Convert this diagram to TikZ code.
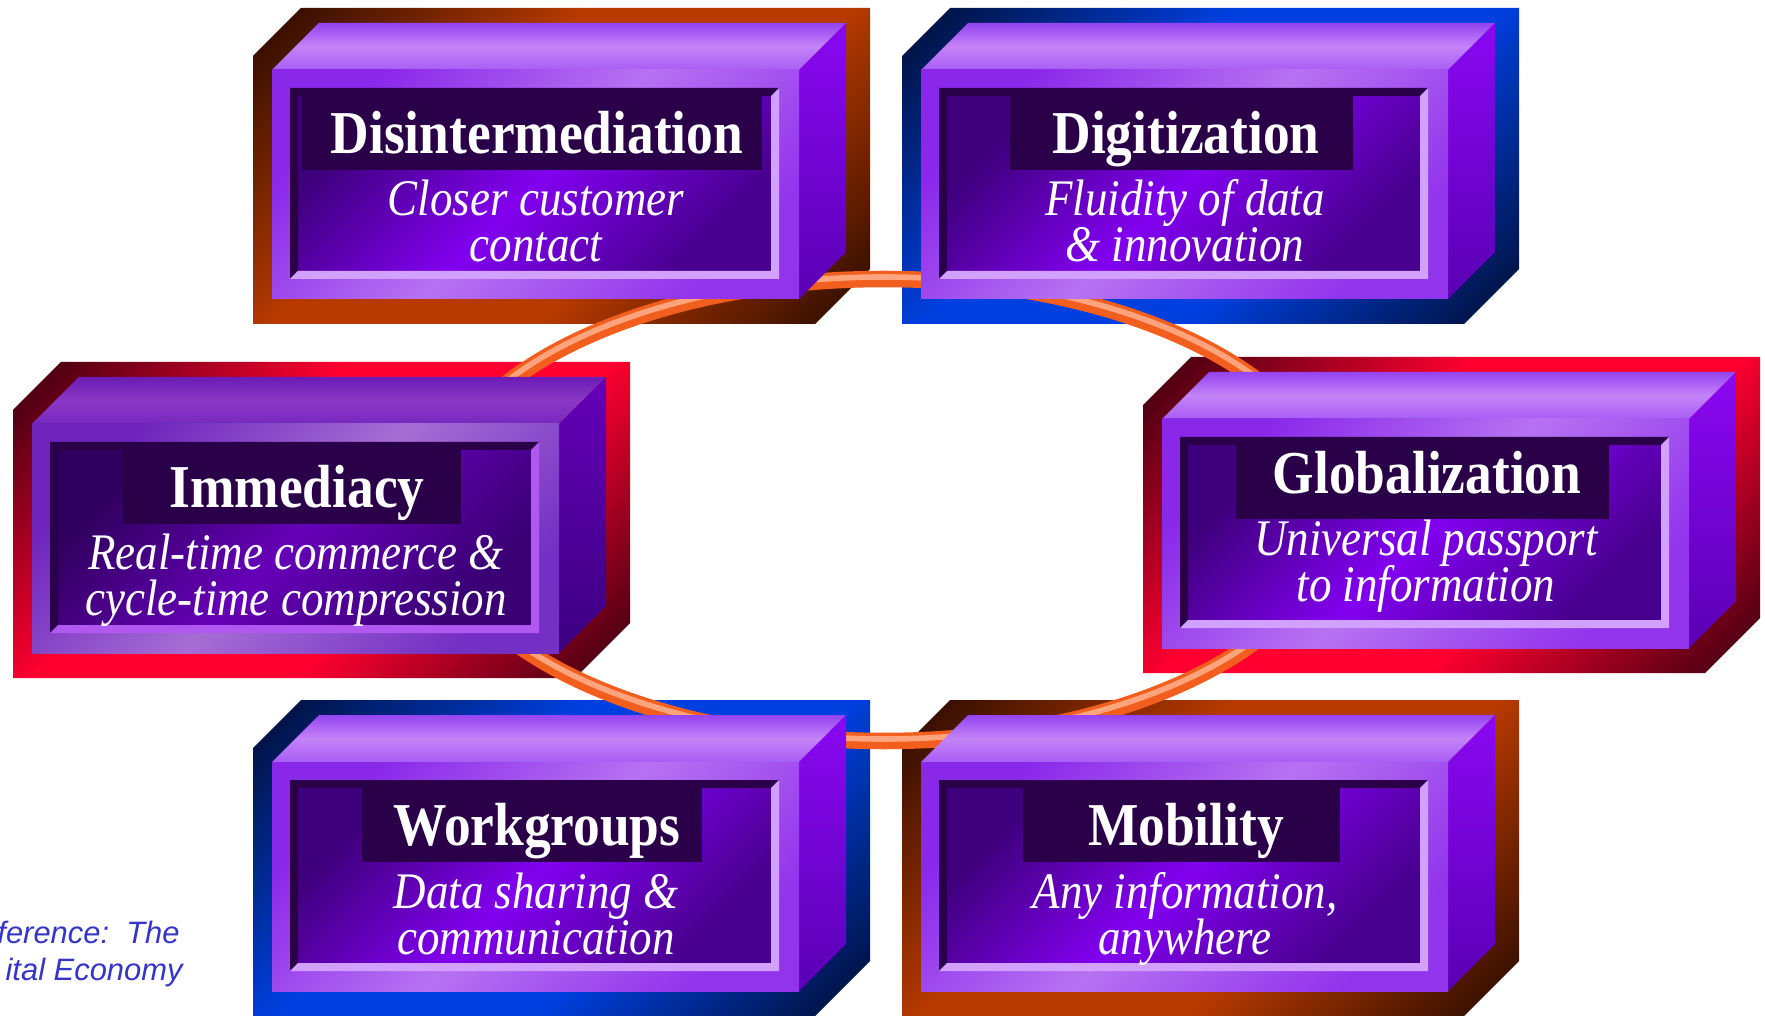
\documentclass[tikz,border=0pt]{standalone}
\usepackage{fontspec}
\setmainfont{Liberation Serif}
\setsansfont{Liberation Sans}
\usepackage{xcolor}
\usepackage{graphicx}
\usepackage{tikz}
\usetikzlibrary{positioning}
\definecolor{c_bar}{HTML}{2A0048}
\definecolor{c_ring}{HTML}{F25E1E}
\definecolor{c_ringlit}{HTML}{FFA47C}
\definecolor{c_ref}{HTML}{3535C8}
\definecolor{c_brown_d}{HTML}{2E0C00}
\definecolor{c_brown_l}{HTML}{B83A00}
\definecolor{c_blue_d}{HTML}{00103A}
\definecolor{c_blue_l}{HTML}{0040E0}
\definecolor{c_red_d}{HTML}{400010}
\definecolor{c_red_l}{HTML}{FF0030}
\definecolor{c_topA1}{HTML}{9444F0}
\definecolor{c_topA2}{HTML}{C483F8}
\definecolor{c_topA3}{HTML}{A85EF4}
\definecolor{c_sideA1}{HTML}{8A08F2}
\definecolor{c_sideA2}{HTML}{5A00B4}
\definecolor{c_frontA1}{HTML}{8A28EA}
\definecolor{c_frontA2}{HTML}{B672F2}
\definecolor{c_frontA3}{HTML}{9234EC}
\definecolor{c_panelA1}{HTML}{3E007C}
\definecolor{c_panelA2}{HTML}{8200F0}
\definecolor{c_panelA3}{HTML}{48008E}
\definecolor{c_litA}{HTML}{D2A0FF}
\definecolor{c_topB1}{HTML}{6A1CB4}
\definecolor{c_topB2}{HTML}{8A38C6}
\definecolor{c_topB3}{HTML}{7828BE}
\definecolor{c_sideB1}{HTML}{6400B8}
\definecolor{c_sideB2}{HTML}{3C0080}
\definecolor{c_frontB1}{HTML}{6E24BC}
\definecolor{c_frontB2}{HTML}{A46ED4}
\definecolor{c_frontB3}{HTML}{7430C4}
\definecolor{c_panelB1}{HTML}{30005E}
\definecolor{c_panelB2}{HTML}{6600B8}
\definecolor{c_panelB3}{HTML}{3A0074}
\definecolor{c_litB}{HTML}{B058F0}
\pgfdeclareverticalshading{frame_brown}{100bp}{color(0bp)=(c_brown_d); color(16bp)=(c_brown_d); color(40bp)=(c_brown_l); color(60bp)=(c_brown_l); color(84bp)=(c_brown_d); color(100bp)=(c_brown_d)}
\pgfdeclareverticalshading{frame_blue}{100bp}{color(0bp)=(c_blue_d); color(16bp)=(c_blue_d); color(40bp)=(c_blue_l); color(60bp)=(c_blue_l); color(84bp)=(c_blue_d); color(100bp)=(c_blue_d)}
\pgfdeclareverticalshading{frame_red}{100bp}{color(0bp)=(c_red_d); color(16bp)=(c_red_d); color(40bp)=(c_red_l); color(60bp)=(c_red_l); color(84bp)=(c_red_d); color(100bp)=(c_red_d)}
\tikzset{title/.style={fill=c_bar, text=white, inner sep=0pt, minimum height=1.5cm, text height=23pt, text depth=0pt, font=\fontsize{30.4}{34}\selectfont\bfseries},
sub/.style={text=white, inner sep=0pt, anchor=base, text height=17pt, text depth=5pt, font=\fontsize{25.6}{28}\selectfont\itshape},
ring/.style={line width=9.4pt, c_ring},
ringlit/.style={line width=3.2pt, c_ringlit},
reftext/.style={text=c_ref, anchor=base east, inner sep=0pt, font=\sffamily\itshape\fontsize{17.6}{21}\selectfont}}
\newcommand{\tall}[1]{\scalebox{1}[1.14]{#1}}
\newcommand{\frameat}[3]{%
\shade[shading=frame_#3, shading angle=45, shift={(#1,#2)}]
 (-19,-14) -- (29,-62) -- (598,-62) -- (598,199) -- (543,254) -- (-19,254) -- cycle;}
\newcommand{\cube}[9]{%
\begin{scope}[shift={(#1,#2)}]
\shade[top color=c_top#81, bottom color=c_top#83, middle color=c_top#82] (0,0) -- (47,-47) -- (574,-47) -- (527,0) -- cycle;
\shade[top color=c_side#81, bottom color=c_side#82] (527,0) -- (574,-47) -- (574,182) -- (527,229) -- cycle;
\shade[top color=c_front#81, bottom color=c_front#83, middle color=c_front#82, shading angle=45] (0,0) rectangle (527,229);
\shade[top color=c_panel#81, bottom color=c_panel#83, middle color=c_panel#82, shading angle=45] (26,26) rectangle (499,201);
\fill[c_bar] (18,209) -- (18,18) -- (507,18) -- (499,26) -- (26,26) -- (26,201) -- cycle;
\fill[c_lit#8] (507,18) -- (507,209) -- (18,209) -- (26,201) -- (499,201) -- (499,26) -- cycle;
\node[title, minimum width=#4*0.02cm] (#3) at (260,63) {\hspace*{0.2cm}\raisebox{\dimexpr -0.02cm*#9\relax}{\tall{#5}}};
\node[sub] (#3-a) at (264,146+#9) {\tall{#6}};
\node[sub] (#3-b) at (264,192+#9) {\tall{#7}};
\end{scope}}

\begin{document}
\begin{tikzpicture}[x=0.02cm, y=-0.02cm]
\useasboundingbox (0,0) rectangle (1765,1016);
\fill[white] (0,0) rectangle (1765,1016);
\frameat{272}{70}{brown}
\frameat{921}{70}{blue}
\frameat{32}{424}{red}
\frameat{1162}{419}{red}
\frameat{272}{762}{blue}
\frameat{921}{762}{brown}
\draw[ring] (884,510) ellipse [x radius=451, y radius=231];
\draw[ringlit] (884,508) ellipse [x radius=451, y radius=231];
\cube{272}{70}{disint}{460}{Disintermediation}{Closer customer}{contact}{A}{0}
\cube{921}{70}{digit}{343}{Digitization}{Fluidity of data}{\& innovation}{A}{0}
\cube{32}{424}{immed}{338}{Immediacy}{Real-time commerce \&}{cycle-time compression}{B}{0}
\cube{1162}{419}{global}{373}{Globalization}{Universal passport}{to information}{A}{-9}
\cube{272}{762}{workgr}{340}{Workgroups}{Data sharing \&}{communication}{A}{0}
\cube{921}{762}{mobil}{317}{Mobility}{Any information,}{anywhere}{A}{0}
\node[reftext] (ref1) at (180,943) {ference:\ \ The};
\node[reftext] (ref2) at (183,980) {ital Economy};
\end{tikzpicture}
\end{document}
